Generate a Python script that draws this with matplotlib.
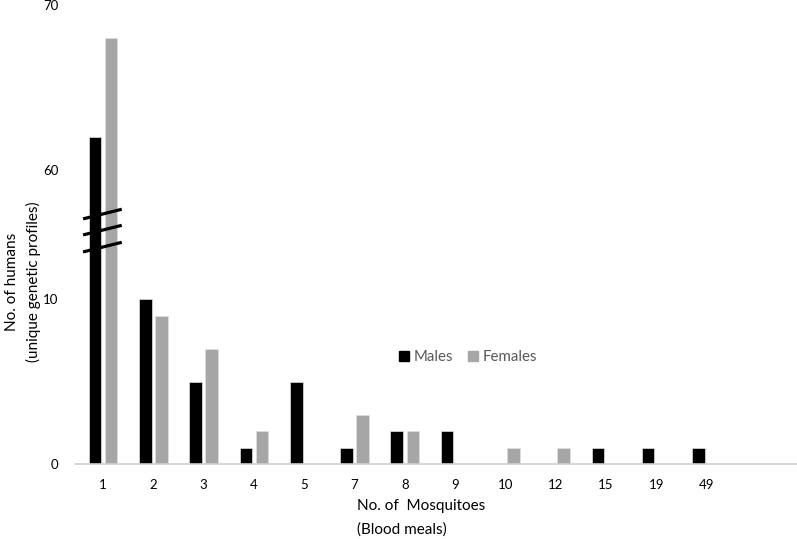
import numpy as np
import matplotlib.pyplot as plt
from matplotlib.patches import Patch

plt.rcParams['font.family'] = ['Lato', 'DejaVu Sans']

# blood meals per human profile
categories = ['1', '2', '3', '4', '5', '7', '8', '9', '10', '12', '15', '19', '49']
males = [62, 10, 5, 1, 5, 1, 2, 2, 0, 0, 1, 1, 1]
females = [68, 9, 7, 2, 0, 3, 2, 0, 1, 1, 0, 0, 0]
ytick_values = [0, 10, 60, 70]

# broken y axis: squeeze 10..60 into a short gap
low, high = 10.0, 60.0
gap = 7.9

def fwd(v):
    v = np.asarray(v, dtype=float)
    return np.where(v <= low, v,
                    np.where(v >= high, v - (high - low) + gap,
                             low + (v - low) * gap / (high - low)))

def inv(u):
    u = np.asarray(u, dtype=float)
    return np.where(u <= low, u,
                    np.where(u >= low + gap, u + (high - low) - gap,
                             low + (u - low) * (high - low) / gap))

fig = plt.figure(figsize=(7.97, 5.39), dpi=100)
ax = fig.add_axes([75/797, 1 - 464/539, 1 - 75/797, 459/539])
ax.set_yscale('function', functions=(fwd, inv))

x = np.arange(len(categories))
w = 0.25
ax.bar(x - 0.16, males, w, color='black', edgecolor='#e0e0e0', linewidth=0.5, label='Males')
ax.bar(x + 0.16, females, w, color='#a6a6a6', edgecolor='#e0e0e0', linewidth=0.5, label='Females')

ax.set_ylim(0, 70)
ax.set_xlim(-0.56, 13.8)
ax.set_yticks(ytick_values)
ax.set_yticklabels([str(v) for v in ytick_values])
ax.set_xticks(x)
ax.set_xticklabels(categories)
ax.tick_params(axis='both', length=0, labelsize=9.5, colors='black')
ax.tick_params(axis='x', pad=11)
ax.tick_params(axis='y', pad=12)
ax.yaxis.set_minor_locator(plt.NullLocator())

for s in ['top', 'right', 'left']:
    ax.spines[s].set_visible(False)
ax.spines['bottom'].set_color('#d0d0d0')
ax.spines['bottom'].set_linewidth(1.2)

# break marks across the first group
tr = ax.get_xaxis_transform()
for y0 in [0.534, 0.499, 0.462]:
    ax.plot([-0.40, 0.37], [y0, y0 + 0.021], color='black', lw=2.3,
            transform=tr, clip_on=False, solid_capstyle='butt')

handles = [Patch(color='black'), Patch(color='#a6a6a6')]
leg = fig.legend(handles, ['Males', 'Females'], loc='center',
                 bbox_to_anchor=(468/797, 1 - 357/539), ncol=2, frameon=False,
                 handlelength=0.65, handleheight=0.65, handletextpad=0.3,
                 columnspacing=1.0, fontsize=10.8)
for t in leg.get_texts():
    t.set_color('#595959')

fig.text(357/797, 1 - 506/539, 'No. of  Mosquitoes', fontsize=11, va='center', ha='left')
fig.text(357/797, 1 - 530/539, '(Blood meals)', fontsize=11, va='center', ha='left')
fig.text(12/797, 1 - 282/539, 'No. of humans', fontsize=11, rotation=90, va='center', ha='center')
fig.text(33/797, 1 - 282/539, '(unique genetic profiles)', fontsize=11, rotation=90, va='center', ha='center')

fig.savefig('out.png', dpi=100)
